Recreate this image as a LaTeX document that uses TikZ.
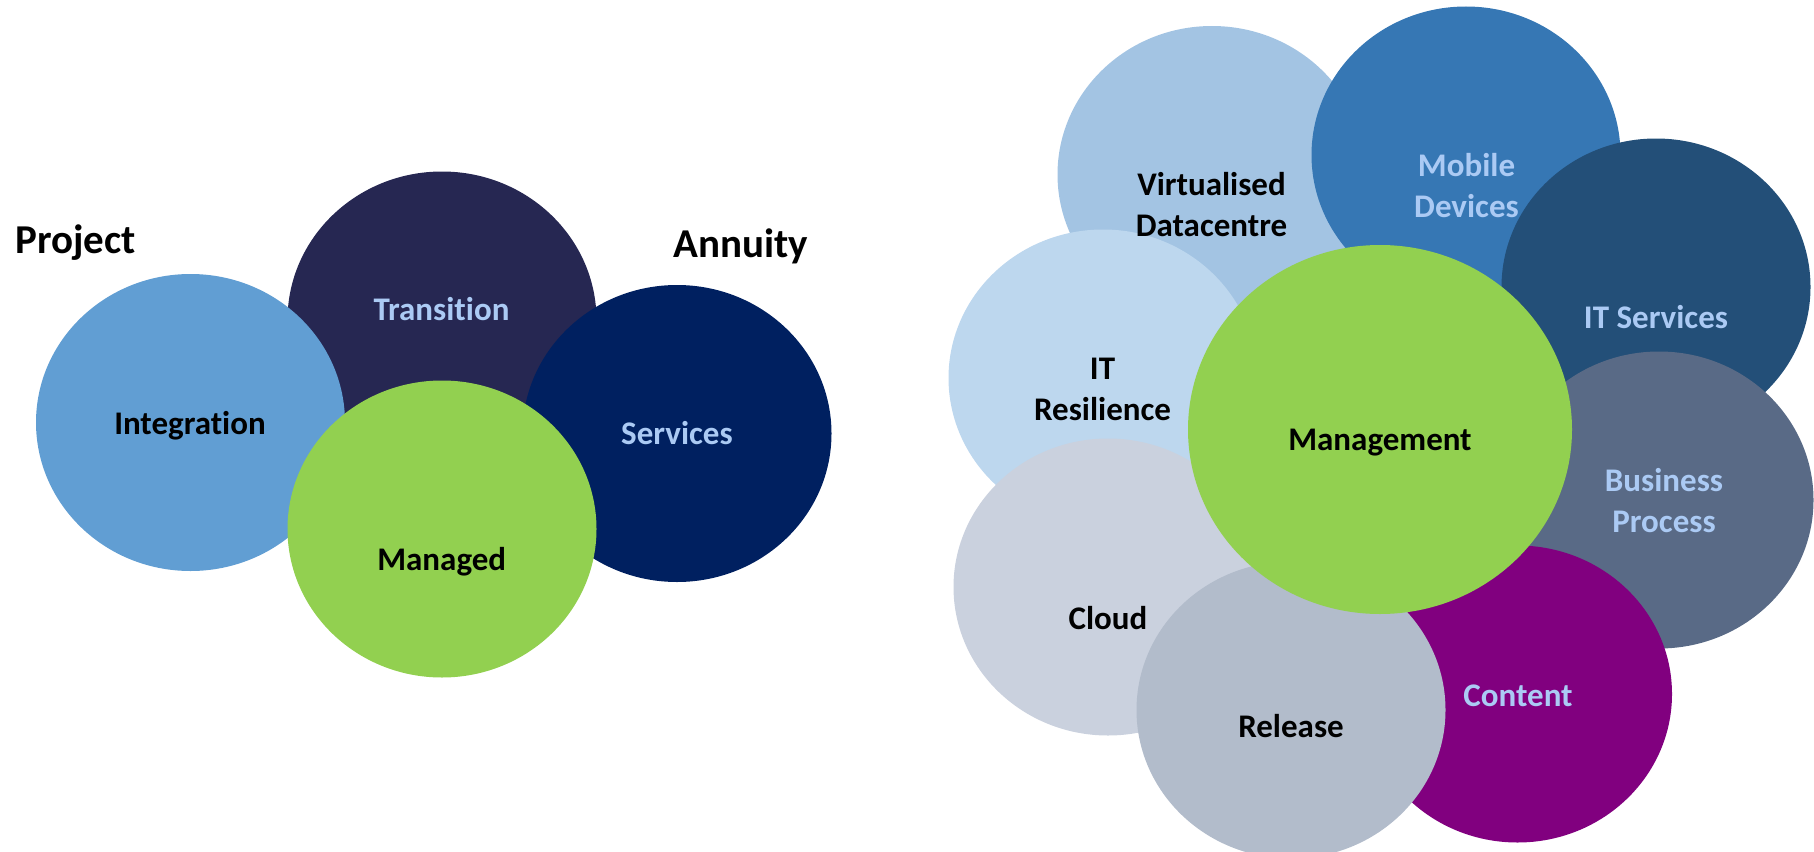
\documentclass[tikz,border=0pt]{standalone}
\usepackage{fontspec}
\setmainfont{Carlito}[Ligatures=NoCommon]
\usetikzlibrary{shapes.geometric}
\definecolor{integblue}{HTML}{619ED3}
\definecolor{transnavy}{HTML}{262752}
\definecolor{servnavy}{HTML}{002060}
\definecolor{leafgreen}{HTML}{92D050}
\definecolor{virtblue}{HTML}{A3C4E3}
\definecolor{mobileblue}{HTML}{3677B4}
\definecolor{itblue}{HTML}{234F78}
\definecolor{slate}{HTML}{596A86}
\definecolor{plum}{HTML}{81007F}
\definecolor{steel}{HTML}{B2BCCB}
\definecolor{mist}{HTML}{CAD1DE}
\definecolor{iceblue}{HTML}{BDD7EE}
\definecolor{paletext}{HTML}{ABCAF4}
\newcommand{\lblfont}{\fontsize{33}{41}\selectfont\bfseries}
\newcommand{\headfont}{\fontsize{41}{49}\selectfont\bfseries}
\tikzset{
  bubble/.style={ellipse,inner sep=0pt,minimum width=309pt,minimum height=297pt},
  bigbubble/.style={bubble,minimum width=384pt,minimum height=369pt},
  lbl/.style={font=\lblfont,align=center,anchor=base,inner sep=0pt},
  palelbl/.style={lbl,text=paletext},
  head/.style={font=\headfont,anchor=base west,inner sep=0pt}
}

\begin{document}
\begin{tikzpicture}[x=1pt,y=-1pt]
  \useasboundingbox (0,0) rectangle (1814,851);
  \clip (0,0) rectangle (1814,851);
  % project / annuity group
  \node[bubble,fill=transnavy] (transition) at (442,320) {};
  \node[bubble,fill=integblue] (integration) at (190.5,422.5) {};
  \node[bubble,fill=servnavy] (services) at (677,433.5) {};
  \node[bubble,fill=leafgreen] (managed) at (442,529) {};
  \node[palelbl] (transitiontxt) at (441.5,320.7) {Transition};
  \node[lbl] (integrationtxt) at (190,434) {Integration};
  \node[palelbl] (servicestxt) at (677,444) {Services};
  \node[lbl] (managedtxt) at (441.7,570) {Managed};
  \node[head] (project) at (15,253) {Project};
  \node[head] (annuity) at (673,257) {Annuity};
  % management cluster (two-line labels sit on their last baseline)
  \node[bubble,fill=virtblue] (virtual) at (1212,174.5) {};
  \node[bubble,fill=mobileblue] (mobile) at (1466,155) {};
  \node[bubble,fill=itblue] (itserv) at (1656,287) {};
  \node[bubble,fill=slate] (business) at (1659,500) {};
  \node[bubble,fill=plum] (content) at (1517.5,694) {};
  \node[bubble,fill=iceblue] (resilience) at (1103,378) {};
  \node[bubble,fill=mist] (cloud) at (1108,587) {};
  \node[bubble,fill=steel] (release) at (1291,710) {};
  \node[bigbubble,fill=leafgreen] (management) at (1380,429.5) {};
  \node[lbl] (virtualtxt) at (1211.5,236) {Virtualised\\Datacentre};
  \node[palelbl] (mobiletxt) at (1466.5,217.3) {Mobile\\Devices};
  \node[palelbl] (itservtxt) at (1656,328) {IT Services};
  \node[palelbl] (businesstxt) at (1664,532.5) {Business\\Process};
  \node[palelbl] (contenttxt) at (1518,706) {Content};
  \node[lbl] (resiliencetxt) at (1102.5,420.9) {IT\\Resilience};
  \node[lbl] (cloudtxt) at (1108,629) {Cloud};
  \node[lbl] (releasetxt) at (1291,737.3) {Release};
  \node[lbl] (managementtxt) at (1380,450) {Management};
\end{tikzpicture}
\end{document}
